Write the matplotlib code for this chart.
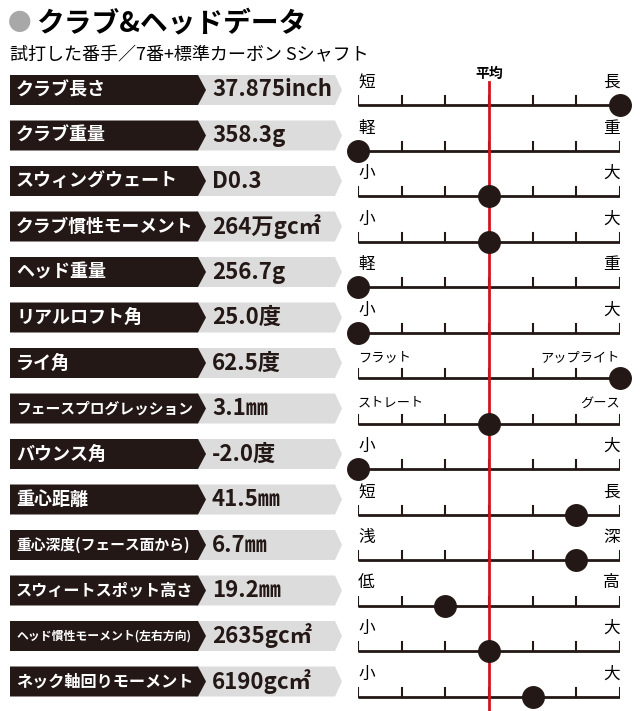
import matplotlib.pyplot as plt
from matplotlib.patches import Polygon

plt.rcParams["font.family"] = ["Noto Sans CJK JP", "DejaVu Sans"]

labels = ["クラブ長さ", "クラブ重量", "スウィングウェート", "クラブ慣性モーメント", "ヘッド重量",
          "リアルロフト角", "ライ角", "フェースプログレッション", "バウンス角", "重心距離",
          "重心深度(フェース面から)", "スウィートスポット高さ", "ヘッド慣性モーメント(左右方向)",
          "ネック軸回りモーメント"]
values = ["37.875inch", "358.3g", "D0.3", "264万gc㎡", "256.7g", "25.0度", "62.5度",
          "3.1㎜", "-2.0度", "41.5㎜", "6.7㎜", "19.2㎜", "2635gc㎡", "6190gc㎡"]
left_ends = ["短", "軽", "小", "小", "軽", "小", "フラット", "ストレート", "小", "短", "浅", "低", "小", "小"]
right_ends = ["長", "重", "大", "大", "重", "大", "アップライト", "グース", "大", "長", "深", "高", "大", "大"]
positions = [6, 0, 3, 3, 0, 0, 6, 3, 0, 5, 5, 2, 3, 4]

W, H = 640, 711
fig = plt.figure(figsize=(W / 100, H / 100), dpi=100)
ax = fig.add_axes([0, 0, 1, 1])
ax.set_xlim(0, W)
ax.set_ylim(H, 0)
ax.axis("off")

# scale region axes: x 358..620 px
sx0, sx1 = 358, 620
sax = fig.add_axes([sx0 / W, 0, (sx1 - sx0) / W, 1])
sax.set_xlim(0, 6)
sax.set_ylim(H, 0)
sax.axis("off")

ax.text(8, 24, "●", color="#a8a8a8", fontsize=17, va="center", ha="left")
ax.text(36, 23, "クラブ&ヘッドデータ", fontsize=20, fontweight="bold", va="center", ha="left")
ax.text(10, 55, "試打した番手／7番+標準カーボン Sシャフト", fontsize=13, va="center", ha="left")


def eff_len(s):
    return sum(0.5 if ord(c) < 128 else 1.0 for c in s)


y0, dy = 90, 45.5
for i, (lab, val) in enumerate(zip(labels, values)):
    yc = y0 + i * dy
    top, bot = yc - 15, yc + 15
    ax.add_patch(Polygon([(196, top), (335, top), (342, yc), (335, bot), (196, bot)],
                         closed=True, color="#dcdcdc", lw=0))
    ax.add_patch(Polygon([(10, top), (198, top), (206, yc), (198, bot), (10, bot)],
                         closed=True, color="#231815", lw=0))
    fs = min(13, 178 / (1.39 * eff_len(lab)))
    ax.text(16, yc, lab, color="white", fontsize=fs, fontweight="bold", va="center", ha="left")
    ax.text(212, yc, val, color="#231815", fontsize=16, fontweight="bold", va="center", ha="left")

    ly = yc + 15
    sax.plot([0, 6], [ly, ly], color="#231815", lw=2, solid_capstyle="butt")
    for t in range(7):
        sax.plot([t, t], [ly, ly - 9], color="#231815", lw=1.5)
    efs = 12 if len(left_ends[i]) == 1 else 9.5
    sax.text(0, ly - 14, left_ends[i], fontsize=efs, va="bottom", ha="left")
    efs = 12 if len(right_ends[i]) == 1 else 9.5
    sax.text(6, ly - 14, right_ends[i], fontsize=efs, va="bottom", ha="right")

sax.plot([3, 3], [82, H], color="#d2141e", lw=2, zorder=3)
sax.text(3, 74, "平均", fontsize=10, fontweight="bold", ha="center", va="center")

for i, p in enumerate(positions):
    ly = y0 + i * dy + 15
    sax.scatter([p], [ly], s=240, color="#231815", zorder=5, clip_on=False)

fig.savefig("out.png", dpi=100)
